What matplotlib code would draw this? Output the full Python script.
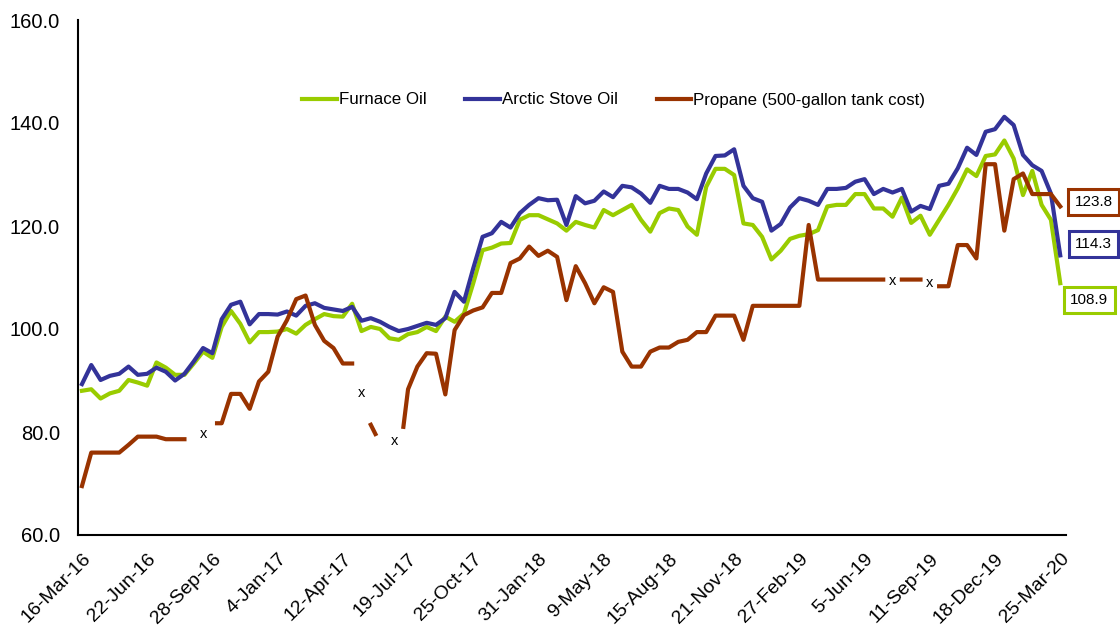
import numpy as np
import pandas as pd
import matplotlib
matplotlib.use('Agg')
import matplotlib.pyplot as plt

plt.rcParams['font.family'] = ['Liberation Sans', 'DejaVu Sans']

# survey dates: every two weeks from 16-Mar-16 to 25-Mar-20
oil_dates = pd.date_range('2016-03-16', '2020-03-25', freq='14D')

furnace_oil = [88.0, 88.3, 86.5, 87.5, 88.0, 90.1, 89.6, 89.0, 93.5, 92.5,
               91.1, 91.1, 93.3, 95.6, 94.4, 100.4, 103.5, 101.0, 97.4, 99.4,
               99.4, 99.5, 100.0, 99.1, 100.8, 101.9, 102.9, 102.5, 102.4, 104.9,
               99.6, 100.4, 100.0, 98.2, 97.9, 99.0, 99.4, 100.4, 99.6, 102.4,
               101.4, 103.0, 108.9, 115.3, 115.8, 116.6, 116.7, 121.2, 122.1, 122.1,
               121.3, 120.5, 119.1, 120.8, 120.2, 119.7, 123.1, 122.1, 123.1, 124.1,
               121.2, 118.9, 122.5, 123.4, 123.1, 119.9, 118.3, 127.6, 131.1, 131.1,
               129.9, 120.5, 120.2, 117.9, 113.5, 115.2, 117.5, 118.1, 118.4, 119.2,
               123.8, 124.1, 124.1, 126.2, 126.2, 123.4, 123.4, 121.8, 125.5, 120.6,
               122.0, 118.3, 121.2, 124.1, 127.3, 131.0, 129.7, 133.6, 133.9, 136.6,
               133.1, 126.0, 130.7, 124.1, 121.2, 108.9]

arctic_stove_oil = [89.3, 93.0, 90.1, 90.9, 91.3, 92.7, 91.1, 91.3, 92.5, 91.7,
                    90.0, 91.3, 93.7, 96.3, 95.3, 101.9, 104.7, 105.3, 100.9, 102.9,
                    102.9, 102.8, 103.4, 102.6, 104.5, 105.0, 104.1, 103.8, 103.5, 104.3,
                    101.6, 102.1, 101.4, 100.4, 99.6, 100.0, 100.6, 101.2, 100.8, 102.1,
                    107.2, 105.3, 111.8, 117.9, 118.6, 120.8, 119.7, 122.5, 124.1, 125.4,
                    125.0, 125.1, 120.2, 125.8, 124.4, 124.9, 126.7, 125.6, 127.8, 127.5,
                    126.3, 124.5, 127.8, 127.2, 127.2, 126.5, 125.2, 130.2, 133.6, 133.7,
                    134.9, 127.8, 125.4, 124.7, 119.1, 120.4, 123.6, 125.4, 124.9, 124.1,
                    127.2, 127.2, 127.4, 128.6, 129.1, 126.2, 127.2, 126.5, 127.2, 122.8,
                    123.9, 123.3, 127.8, 128.2, 131.2, 135.2, 133.8, 138.3, 138.8, 141.2,
                    139.6, 133.8, 131.8, 130.7, 126.3, 114.3]

# propane: weeks since 16-Mar-16, NaN where the series breaks
propane_weeks = [0, 2, 4, 6, 8, 10, 12, 14, 16, 18, 20, 22, 23,
                 29, 30, 32, 34, 36, 38, 40, 42, 44, 46, 48, 50, 52, 54, 56, 58, 59,
                 62, 63, 64,
                 69, 70, 72, 74, 76, 78, 80, 82, 84, 86, 88, 90, 92, 94, 96, 98,
                 100, 102, 104, 106, 108, 110, 112, 114, 116, 118, 120, 122, 124, 126,
                 128, 130, 132, 134, 136, 138, 140, 142, 144, 146, 148, 150, 152, 154,
                 156, 158, 160, 162, 164, 166, 168, 170, 172, 173,
                 176, 178, 180, 181,
                 184, 186, 188, 190, 192, 194, 196, 198, 200, 202, 204, 206, 208, 210]
propane = [69.5, 76.0, 76.0, 76.0, 76.0, 77.5, 79.1, 79.1, 79.1, 78.6, 78.6, 78.6, np.nan,
           81.7, 81.7, 87.4, 87.4, 84.5, 89.8, 91.7, 98.5, 101.7, 105.8, 106.5, 100.8,
           97.7, 96.3, 93.3, 93.3, np.nan,
           81.4, 79.6, np.nan,
           81.0, 88.3, 92.7, 95.3, 95.2, 87.3, 99.8, 102.7, 103.6, 104.2, 107.0, 107.0,
           112.8, 113.7, 116.0, 114.2, 115.2, 114.0, 105.6, 112.2, 108.9, 105.0, 108.1,
           107.2, 95.6, 92.7, 92.7, 95.6, 96.4, 96.4, 97.5, 97.9, 99.4, 99.4, 102.6,
           102.6, 102.6, 97.9, 104.5, 104.5, 104.5, 104.5, 104.5, 104.5, 120.2, 109.6,
           109.6, 109.6, 109.6, 109.6, 109.6, 109.6, 109.6, np.nan,
           109.6, 109.6, 109.6, np.nan,
           108.3, 108.3, 116.3, 116.3, 113.7, 132.0, 132.0, 119.1, 129.1, 130.2,
           126.2, 126.2, 126.2, 123.8]

# weeks with no propane value, marked with an "x"
missing_weeks = [26, 60, 67, 174, 182]
missing_vals = [79.6, 87.6, 78.3, 109.4, 109.0]

tick_labels = ['16-Mar-16', '22-Jun-16', '28-Sep-16', '4-Jan-17', '12-Apr-17',
               '19-Jul-17', '25-Oct-17', '31-Jan-18', '9-May-18', '15-Aug-18',
               '21-Nov-18', '27-Feb-19', '5-Jun-19', '11-Sep-19', '18-Dec-19',
               '25-Mar-20']

start = pd.Timestamp('2016-03-16')
propane_dates = start + pd.to_timedelta(np.array(propane_weeks) * 7, unit='D')
missing_dates = start + pd.to_timedelta(np.array(missing_weeks) * 7, unit='D')
tick_dates = pd.to_datetime(tick_labels, format='%d-%b-%y')

green = '#99CC00'
blue = '#333399'
brown = '#993300'

fig = plt.figure(figsize=(11.2, 6.25), dpi=100)
ax = fig.add_axes([0.0696, 0.144, 0.8818, 0.824])

ax.plot(oil_dates, furnace_oil, color=green, lw=3, label='Furnace Oil')
ax.plot(oil_dates, arctic_stove_oil, color=blue, lw=3, label='Arctic Stove Oil')
ax.plot(propane_dates, propane, color=brown, lw=3,
        label='Propane (500-gallon tank cost)')

for d, v in zip(missing_dates, missing_vals):
    ax.text(d, v, 'x', fontsize=10.5, ha='center', va='center')

# end-of-series value boxes
ends = [(propane[-1], brown, (24, 3)),
        (arctic_stove_oil[-1], blue, (24, 8)),
        (furnace_oil[-1], green, (21, -12))]
for v, c, off in ends:
    ax.annotate(f'{v:.1f}', xy=(oil_dates[-1], v), xytext=off,
                textcoords='offset points', ha='center', va='center',
                fontsize=11, annotation_clip=False,
                bbox=dict(boxstyle='square,pad=0.4', fc='white', ec=c, lw=2.2))

ax.set_ylim(60, 160)
ax.set_yticks(np.arange(60, 161, 20))
ax.set_yticklabels([f'{t:.1f}' for t in np.arange(60, 161, 20)], fontsize=14.5)
ax.set_xlim(start - pd.Timedelta(days=6), oil_dates[-1] + pd.Timedelta(days=8))
ax.set_xticks(tick_dates)
ax.set_xticklabels(tick_labels, fontsize=14, rotation=45, ha='right',
                   rotation_mode='anchor')
ax.tick_params(axis='both', length=0)
ax.tick_params(axis='x', pad=11)
ax.tick_params(axis='y', pad=13)

for s in ['top', 'right']:
    ax.spines[s].set_visible(False)
for s in ['left', 'bottom']:
    ax.spines[s].set_linewidth(1.5)
    ax.spines[s].set_color('black')

ax.legend(loc='center', bbox_to_anchor=(0.548, 0.84), bbox_transform=fig.transFigure,
          ncol=3, frameon=False, fontsize=12.2, handlelength=2.05, handletextpad=0.1,
          columnspacing=2.3)

fig.savefig('out.png', dpi=100)
